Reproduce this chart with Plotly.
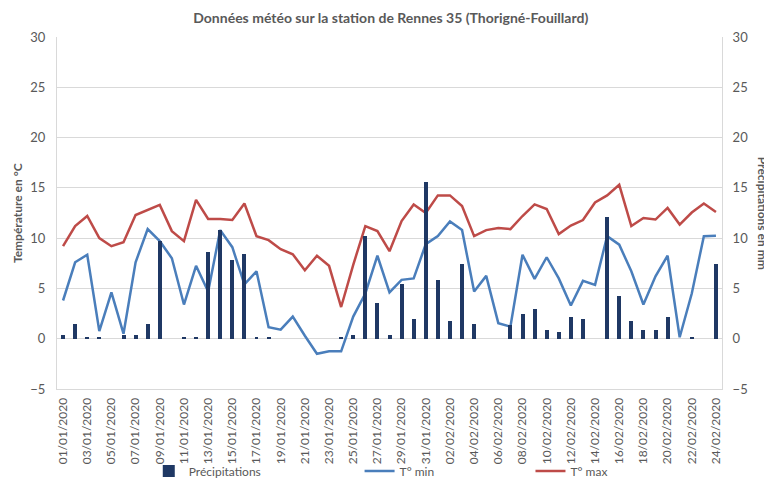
import pandas as pd
import plotly.graph_objects as go

dates = [d.strftime("%d/%m/%Y") for d in pd.date_range("2020-01-01", "2020-02-24", freq="D")]

t_min = [3.8, 7.6, 8.35, 0.75, 4.6, 0.5, 7.6, 10.9, 9.7, 8.0,
         3.4, 7.25, 4.7, 10.8, 9.1, 5.4, 6.7, 1.15, 0.9, 2.2,
         0.3, -1.5, -1.25, -1.25, 2.2, 4.5, 8.25, 4.6, 5.85, 6.0,
         9.4, 10.2, 11.65, 10.8, 4.7, 6.25, 1.55, 1.2, 8.35, 5.95,
         8.1, 6.0, 3.3, 5.75, 5.35, 10.2, 9.35, 6.7, 3.4, 6.2,
         8.25, 0.15, 4.5, 10.2, 10.25]

t_max = [9.2, 11.2, 12.2, 10.0, 9.2, 9.6, 12.3, 12.8, 13.3, 10.7,
         9.7, 13.8, 11.9, 11.9, 11.8, 13.45, 10.2, 9.8, 8.9, 8.4,
         6.8, 8.25, 7.25, 3.15, 7.35, 11.2, 10.7, 8.7, 11.7, 13.35,
         12.5, 14.25, 14.25, 13.2, 10.2, 10.8, 11.0, 10.9, 12.2, 13.35,
         12.9, 10.4, 11.25, 11.8, 13.55, 14.25, 15.3, 11.2, 12.0, 11.85,
         13.0, 11.35, 12.55, 13.45, 12.6]

precip = [0.4, 1.45, 0.2, 0.2, 0.0, 0.4, 0.4, 1.45, 9.7, 0.0,
          0.2, 0.2, 8.6, 10.8, 7.85, 8.45, 0.2, 0.2, 0.0, 0.0,
          0.0, 0.0, 0.0, 0.2, 0.4, 10.2, 3.6, 0.4, 5.45, 2.0,
          15.6, 5.8, 1.8, 7.4, 1.45, 0.0, 0.0, 1.4, 2.45, 3.0,
          0.85, 0.65, 2.2, 2.0, 0.0, 12.15, 4.2, 1.8, 0.85, 0.85,
          2.2, 0.0, 0.2, 0.0, 7.4]

tick_labels = dates[::2]

GREY = "#595959"
GRID = "#D9D9D9"
FONT = "Lato"

fig = go.Figure()
fig.add_trace(go.Bar(x=dates, y=precip, name="Précipitations", marker_color="#1F3864",
                     marker_line_width=0, width=0.33, yaxis="y2", legend="legend"))
fig.add_trace(go.Scatter(x=dates, y=t_min, name="T° min", mode="lines",
                         line=dict(color="#4A7EBB", width=2.5), legend="legend2"))
fig.add_trace(go.Scatter(x=dates, y=t_max, name="T° max", mode="lines",
                         line=dict(color="#BE4B48", width=2.5), legend="legend3"))

leg_common = dict(orientation="h", yref="container", y=0.019, yanchor="middle",
                  xanchor="left", font=dict(size=12, color=GREY, family=FONT),
                  bgcolor="rgba(0,0,0,0)")

fig.update_layout(
    width=764, height=472,
    margin=dict(l=49, r=50, t=29, b=91),
    paper_bgcolor="white", plot_bgcolor="white",
    showlegend=True,
    font=dict(family=FONT, color=GREY, size=12),
    title=dict(text="<b>Données météo sur la station de Rennes 35 (Thorigné-Fouillard)</b>",
               x=0.501, xanchor="center", y=0.979, yanchor="middle",
               font=dict(size=14, color=GREY, family=FONT)),
    bargap=0,
    xaxis=dict(type="category", tickmode="array", tickvals=tick_labels, ticktext=tick_labels,
               tickangle=-90, showgrid=False, showline=True, linecolor=GRID, linewidth=1,
               ticks="", tickfont=dict(size=12, color=GREY), mirror=False,
               automargin=False, ticklabelstandoff=3),
    yaxis=dict(range=[-5, 30], dtick=5, tick0=0, showgrid=True, gridcolor=GRID, gridwidth=1,
               zeroline=False, showline=True, linecolor=GRID, ticks="",
               tickfont=dict(size=13, color=GREY), ticklabelstandoff=8, automargin=False),
    yaxis2=dict(range=[-5, 30], dtick=5, tick0=0, overlaying="y", side="right",
                showgrid=False, zeroline=False, showline=True, linecolor=GRID, ticks="",
                tickfont=dict(size=13, color=GREY), ticklabelstandoff=7, automargin=False),
    legend=dict(x=0.138, **leg_common),
    legend2=dict(x=0.455, **leg_common),
    legend3=dict(x=0.712, **leg_common),
    annotations=[
        dict(text="<b>Température en °C</b>", xref="paper", yref="paper",
             x=-0.060, y=0.5, xanchor="center", yanchor="middle", textangle=-90,
             showarrow=False, font=dict(size=12, color=GREY, family=FONT)),
        dict(text="<b>Précipitations en mm</b>", xref="paper", yref="paper",
             x=1.062, y=0.5, xanchor="center", yanchor="middle", textangle=90,
             showarrow=False, font=dict(size=12, color=GREY, family=FONT)),
    ],
)

fig.write_html("out.html")
